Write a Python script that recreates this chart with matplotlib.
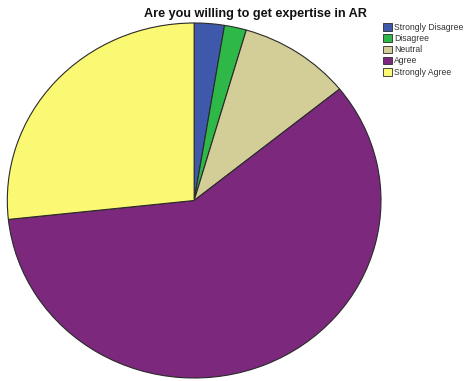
import matplotlib
matplotlib.use("Agg")
import matplotlib.pyplot as plt

# Response shares (%) for the AR expertise question
categories = ["Strongly Disagree", "Disagree", "Neutral", "Agree", "Strongly Agree"]
shares = [2.6, 1.9, 9.7, 59.1, 26.7]
colors = ["#3E58AC", "#2EB848", "#D3CE97", "#7C287D", "#FBF873"]

plt.rcParams["font.family"] = ["Liberation Sans", "DejaVu Sans"]

fig = plt.figure(figsize=(4.65, 3.81), dpi=100)
fig.patch.set_facecolor("white")

# axes box is the pie's bounding ellipse (slightly wider than tall)
ax = fig.add_axes([7.3 / 465, 3 / 381, 373.7 / 465, 355 / 381])
wedges, _ = ax.pie(
    shares,
    colors=colors,
    startangle=90,
    counterclock=False,
    radius=1.0,
    wedgeprops=dict(edgecolor="#2a2a2a", linewidth=0.8, clip_on=False),
)
ax.set_aspect("auto")
ax.set_xlim(-1, 1)
ax.set_ylim(-1, 1)
ax.axis("off")

fig.text(255 / 465, 1 - 14 / 381, "Are you willing to get expertise in AR",
         ha="center", va="center", fontsize=9.1, fontweight="bold", color="#111111")

leg = fig.legend(
    wedges, categories,
    loc="upper left",
    bbox_to_anchor=(383 / 465, 1 - 23 / 381),
    frameon=False,
    fontsize=6.2,
    handlelength=1.0,
    handleheight=1.0,
    handletextpad=0.3,
    labelspacing=0.25,
    borderaxespad=0,
    borderpad=0,
)
for t in leg.get_texts():
    t.set_color("#333333")
for h in leg.legend_handles:
    h.set_linewidth(0.6)

fig.savefig("out.png", dpi=100)
